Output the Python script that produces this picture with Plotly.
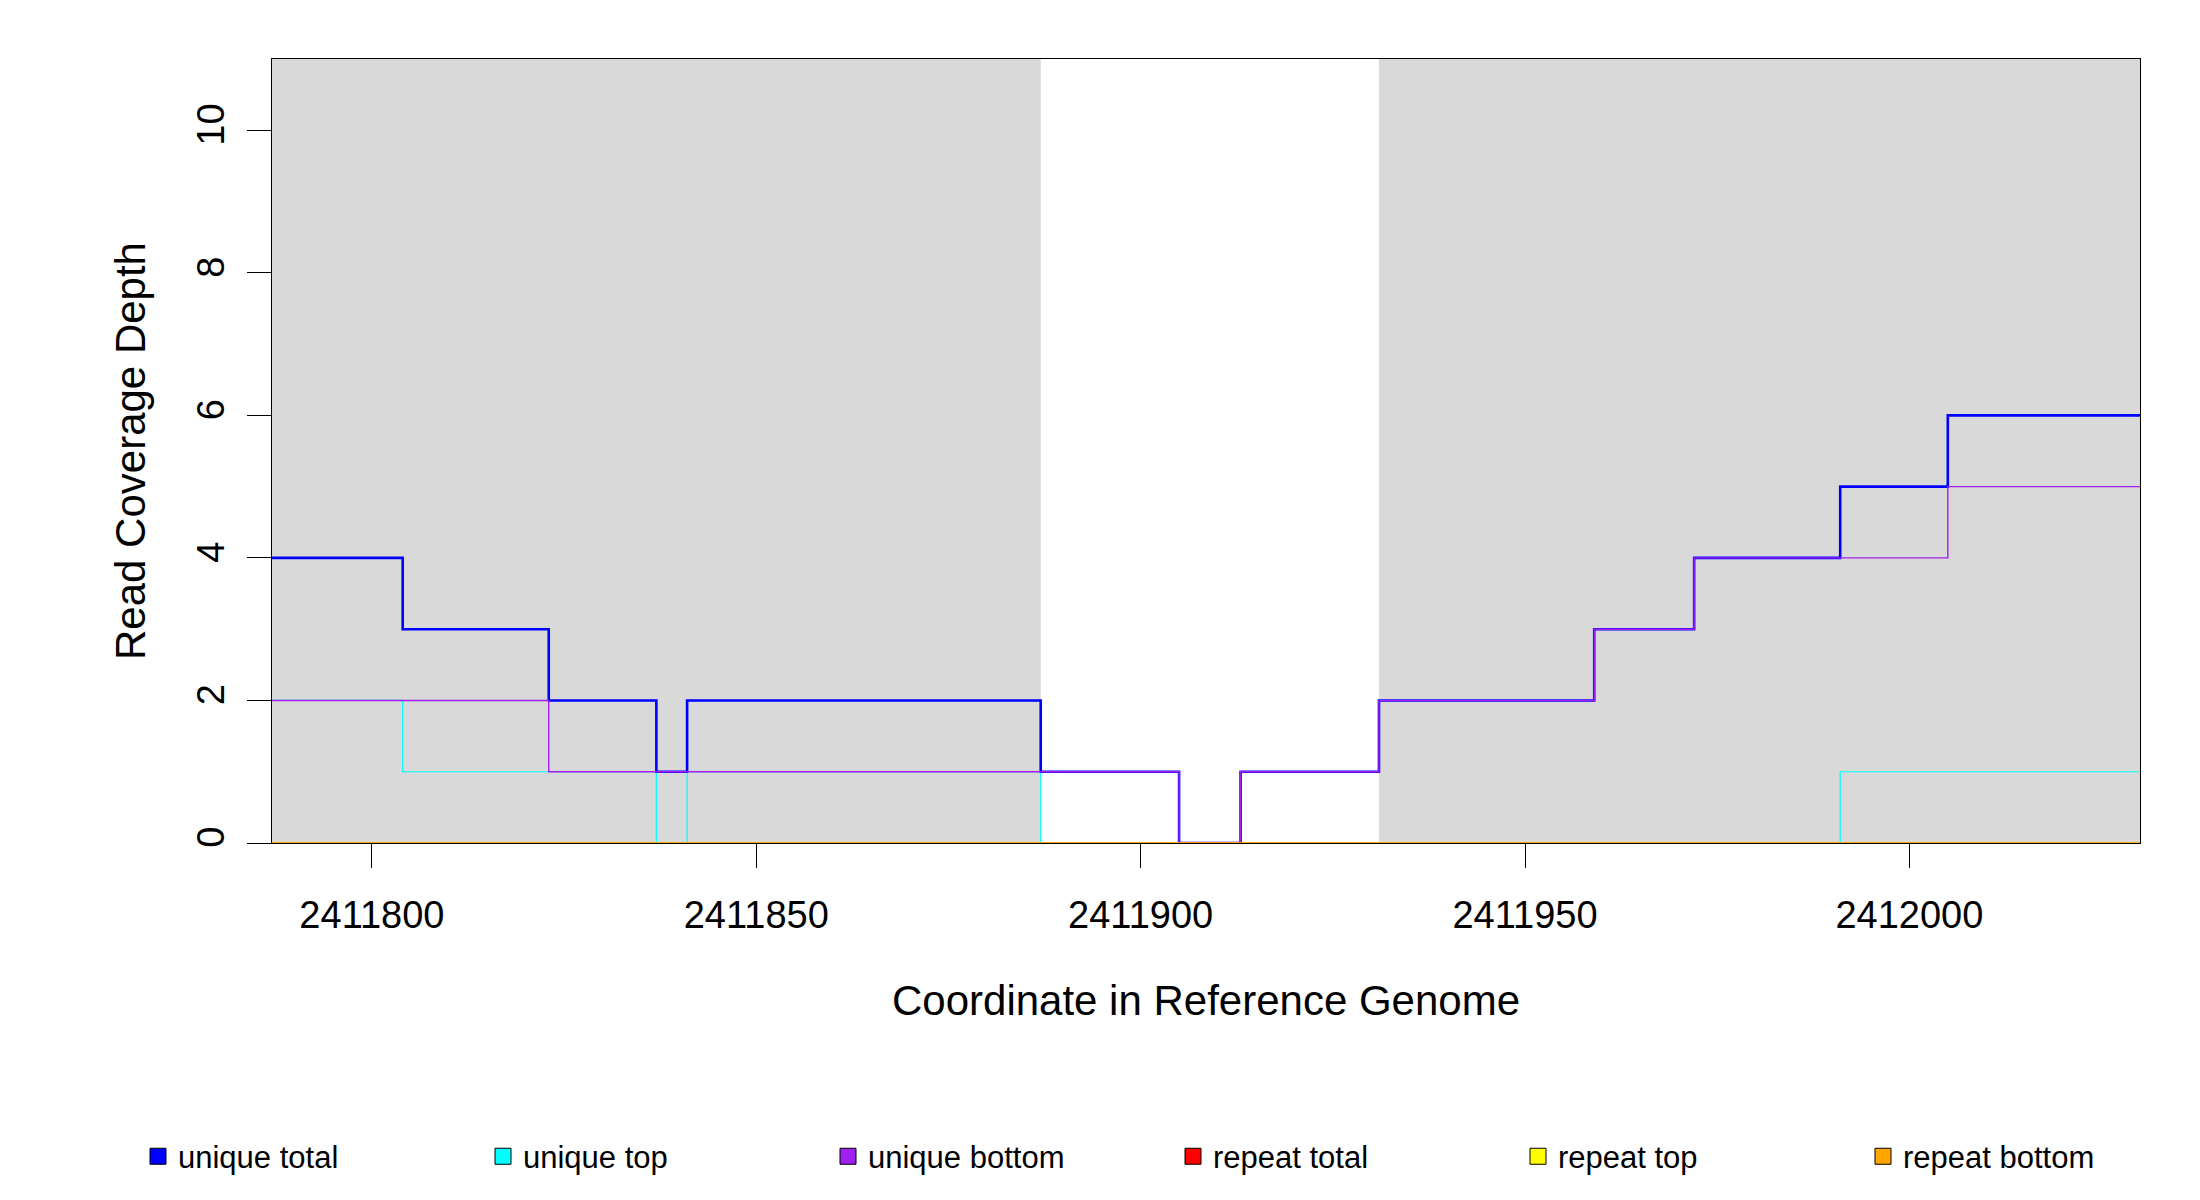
import plotly.graph_objects as go

# step boundaries (coordinates) and per-segment values
edges = [2411787, 2411804, 2411823, 2411837, 2411841, 2411887, 2411905, 2411913,
         2411931, 2411959, 2411972, 2411991, 2412005, 2412030]
unique_total  = [4, 3, 2, 1, 2, 1, 0, 1, 2, 3, 4, 5, 6]
unique_top    = [2, 1, 1, 0, 1, 0, 0, 0, 0, 0, 0, 1, 1]
unique_bottom = [2, 2, 1, 1, 1, 1, 0, 1, 2, 3, 4, 4, 5]
repeat_total  = [0] * 13
repeat_top    = [0] * 13
repeat_bottom = [0] * 13
shaded = [(2411787, 2411887), (2411931, 2412030)]

names = ["unique total", "unique top", "unique bottom", "repeat total", "repeat top", "repeat bottom"]
series = [unique_total, unique_top, unique_bottom, repeat_total, repeat_top, repeat_bottom]
colors = ["#0000FF", "#00FFFF", "#A020F0", "#FF0000", "#FFFF00", "#FFA500"]
widths = [2.6, 1.2, 1.4, 1.2, 1.2, 1.6]

def steps(vals):
    xs, ys = [], []
    for i, v in enumerate(vals):
        xs += [edges[i], edges[i + 1]]
        ys += [v, v]
    return xs, ys

fig = go.Figure()
for x0, x1 in shaded:
    fig.add_shape(type="rect", xref="x", yref="paper", x0=x0, x1=x1, y0=0, y1=1,
                  fillcolor="#D9D9D9", line_width=0, layer="below")

order = [1, 0, 2, 3, 4, 5]
for i in order:
    xs, ys = steps(series[i])
    fig.add_trace(go.Scatter(x=xs, y=ys, mode="lines", line=dict(color=colors[i], width=widths[i]),
                             showlegend=False, hoverinfo="skip"))
for n, c in zip(names, colors):
    fig.add_trace(go.Scatter(x=[None], y=[None], mode="markers", name=n,
                             marker=dict(symbol="square", size=22, color=c, line=dict(color="black", width=1))))

font = "Liberation Sans, Arial, sans-serif"
fig.update_layout(
    width=2200, height=1200, paper_bgcolor="white", plot_bgcolor="white",
    margin=dict(l=264, r=68, t=51, b=365),
    font=dict(family=font, size=38, color="black"),
    showlegend=True,
    legend=dict(orientation="h", x=-0.005, xanchor="left", y=-0.4, yanchor="middle",
                entrywidth=300, entrywidthmode="pixels", font=dict(size=31, family=font)),
    xaxis=dict(range=[2411787, 2412030], tickvals=[2411800, 2411850, 2411900, 2411950, 2412000],
               ticktext=["2411800", "2411850", "2411900", "2411950", "2412000"],
               ticks="outside", ticklen=24, tickcolor="black", tickwidth=1.3, ticklabelstandoff=14,
               showgrid=False, zeroline=False, showline=True, linecolor="black", linewidth=1.3, mirror=True,
               title=dict(text="Coordinate in Reference Genome", font=dict(size=42), standoff=50)),
    yaxis=dict(range=[0, 11], tickvals=[0, 2, 4, 6, 8, 10], ticks="outside", ticklen=24,
               tickcolor="black", tickwidth=1.3, tickangle=-90, ticklabelstandoff=8,
               showgrid=False, zeroline=False, showline=True, linecolor="black", linewidth=1.3, mirror=True,
               title=dict(text="Read Coverage Depth", font=dict(size=42), standoff=30)),
)
fig.write_html("out.html")
